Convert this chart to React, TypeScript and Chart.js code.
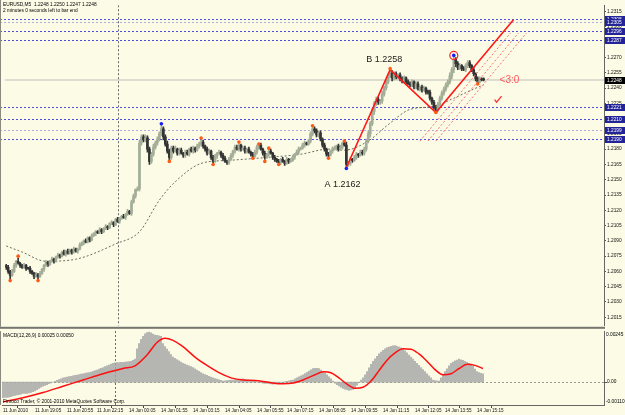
import React, { useEffect, useRef } from "react";
import { Chart, registerables } from "chart.js";

Chart.register(...registerables);

// ---------------- data ----------------
const symbolTitle = "EURUSD,M5  1.2248 1.2250 1.2247 1.2248";
const timerText = "2 minutes 0 seconds left to bar end";
const macdTitle = "MACD(12,26,9) 0.00025 0.00050";
const copyrightText = "Finroco Trader, © 2001-2010 MetaQuotes Software Corp.";

// prices in pips above 1.2000, one entry per M5 bar
const firstOpen = 66;
const closePips = [
  64, 60, 56, 60, 66, 70, 68, 66, 64, 66, 63, 63, 60, 58, 55, 57, 55, 58, 62, 66,
  69, 67, 70, 72, 70, 74, 76, 75, 79, 77, 80, 78, 81, 79, 82, 80, 82, 86, 88, 90,
  89, 93, 91, 95, 97, 99, 98, 101, 99, 102, 104, 103, 107, 108, 106, 111, 109, 112, 114, 113,
  116, 119, 117, 128, 134, 140, 141, 186, 192, 189, 191, 180, 168, 175, 182, 186, 190, 195, 200, 192,
  185, 178, 172, 181, 178, 180, 176, 179, 176, 174, 177, 175, 180, 178, 181, 179, 183, 185, 187, 183,
  180, 176, 178, 172, 168, 173, 176, 177, 174, 171, 168, 167, 170, 174, 178, 182, 180, 184, 180, 181,
  178, 180, 177, 175, 173, 177, 182, 184, 180, 176, 172, 175, 178, 176, 172, 170, 168, 167, 170, 168,
  166, 170, 168, 169, 172, 175, 177, 180, 181, 184, 186, 185, 188, 195, 200, 198, 194, 196, 190, 184,
  180, 175, 174, 178, 180, 181, 183, 180, 182, 186, 184, 165, 166, 170, 169, 172, 175, 174, 177, 176,
  180, 188, 195, 205, 217, 225, 229, 226, 227, 234, 240, 246, 252, 255, 250, 254, 251, 253, 249, 247,
  250, 246, 244, 243, 246, 241, 244, 239, 241, 238, 240, 236, 236, 230, 226, 221, 219, 224, 230, 235,
  239, 243, 246, 252, 258, 268, 264, 260, 262, 259, 258, 262, 265, 262, 258, 254, 249, 246, 249, 248,
  248,
];
const wickUp = [
  1, 2, 1, 2, 2, 1, 3, 1, 1, 2, 1, 1, 2, 1, 1, 2, 1, 2, 1, 1,
  2, 1, 1, 2, 1, 1, 2, 1, 1, 2, 1, 2, 1, 1, 2, 1, 1, 2, 1, 1,
  2, 1, 1, 2, 1, 1, 1, 2, 1, 1, 2, 1, 1, 2, 1, 1, 2, 1, 1, 2,
  1, 2, 1, 2, 2, 1, 2, 3, 2, 2, 3, 2, 2, 2, 3, 2, 2, 2, 4, 2,
  2, 3, 2, 2, 2, 3, 1, 2, 2, 1, 2, 2, 1, 2, 2, 1, 2, 2, 2, 2,
  1, 2, 2, 1, 2, 2, 1, 2, 1, 2, 2, 1, 2, 2, 1, 2, 2, 2, 1, 2,
  2, 1, 2, 1, 2, 2, 2, 1, 2, 1, 2, 1, 2, 2, 1, 2, 1, 2, 1, 2,
  1, 2, 1, 2, 2, 1, 2, 2, 1, 2, 2, 1, 2, 2, 3, 2, 2, 2, 2, 1,
  2, 1, 2, 1, 2, 2, 1, 2, 2, 1, 2, 3, 2, 2, 1, 2, 2, 1, 2, 2,
  2, 2, 3, 2, 3, 2, 2, 2, 2, 3, 2, 2, 2, 3, 2, 2, 2, 1, 2, 2,
  2, 1, 2, 2, 2, 1, 2, 2, 1, 2, 2, 1, 2, 2, 1, 2, 2, 2, 2, 2,
  2, 2, 2, 3, 2, 4, 2, 2, 2, 1, 2, 2, 2, 2, 1, 2, 1, 2, 2, 1,
  2,
];
const wickDown = [
  2, 2, 5, 1, 1, 2, 1, 2, 1, 1, 2, 1, 2, 1, 2, 1, 3, 1, 1, 2,
  1, 2, 1, 1, 2, 1, 1, 2, 1, 1, 2, 1, 1, 2, 1, 1, 2, 1, 1, 2,
  1, 1, 2, 1, 1, 2, 1, 1, 2, 1, 1, 2, 1, 1, 2, 1, 1, 2, 1, 1,
  2, 1, 1, 2, 1, 2, 1, 2, 2, 2, 2, 3, 3, 2, 2, 2, 2, 2, 2, 3,
  2, 2, 3, 2, 2, 1, 2, 2, 1, 2, 2, 1, 2, 1, 2, 2, 1, 2, 2, 2,
  2, 2, 1, 2, 2, 1, 2, 1, 2, 2, 1, 2, 2, 1, 2, 2, 1, 2, 2, 1,
  2, 2, 1, 2, 2, 1, 2, 2, 1, 2, 2, 1, 2, 1, 2, 2, 1, 1, 2, 1,
  2, 1, 2, 1, 1, 2, 1, 2, 1, 1, 2, 1, 1, 2, 2, 2, 2, 2, 2, 2,
  2, 2, 2, 1, 2, 1, 2, 2, 1, 2, 1, 3, 2, 2, 2, 1, 2, 2, 1, 2,
  2, 2, 2, 3, 2, 3, 2, 2, 2, 2, 2, 2, 2, 2, 3, 2, 2, 2, 2, 2,
  2, 2, 1, 2, 2, 2, 2, 1, 2, 2, 1, 2, 2, 2, 2, 2, 3, 2, 2, 2,
  2, 2, 2, 2, 3, 3, 3, 2, 2, 2, 1, 2, 2, 2, 2, 2, 2, 2, 1, 1,
  1,
];

// moving average (dotted) — bar index / pips
const maBars = [0, 8, 20, 35, 55, 67, 77, 85, 98, 112, 132, 148, 162, 170, 182, 192, 203, 215, 225, 235, 240];
const maPips = [85, 79, 70, 72, 87, 99, 130, 148, 166, 169, 172, 175, 180, 179, 188, 204, 219, 222, 230, 239, 243];

// MACD histogram, units of 0.00001, one per bar
const macdHist = [
  -75, -74, -74, -72, -70, -66, -64, -62, -60, -58, -55, -54, -54, -52, -50, -46, -42, -36, -30, -25,
  -20, -16, -12, -8, -4, 0, 4, 8, 12, 16, 20, 22, 24, 26, 28, 30, 32, 34, 36, 38,
  40, 42, 44, 46, 48, 52, 55, 58, 62, 66, 70, 74, 78, 82, 86, 90, 92, 93, 94, 95,
  95, 96, 97, 98, 100, 104, 110, 160, 185, 205, 220, 232, 238, 240, 236, 230, 226, 224, 222, 220,
  185, 170, 158, 146, 132, 120, 114, 108, 102, 96, 90, 86, 82, 78, 74, 70, 64, 58, 52, 46,
  40, 36, 32, 28, 24, 20, 17, 14, 11, 8, 5, 6, 7, 8, 9, 10, 11, 12, 13, 14,
  15, 13, 11, 9, 7, 5, 3, 1, -1, -3, -5, -6, -7, -8, -9, -10, -8, -6, -4, -2,
  0, 2, 4, 6, 8, 10, 15, 20, 25, 30, 35, 41, 47, 53, 59, 65, 66, 66, 65, 58,
  50, 43, 35, 25, 15, 5, -5, -12, -18, -24, -30, -34, -37, -40, -38, -35, -30, -15, 0, 10,
  20, 35, 50, 68, 85, 100, 112, 124, 135, 144, 152, 159, 165, 168, 171, 174, 175, 172, 168, 164,
  160, 150, 140, 130, 120, 110, 100, 90, 80, 70, 60, 50, 40, 30, 20, 10, 7, 6, 5, 20,
  35, 50, 64, 78, 90, 96, 102, 106, 110, 107, 104, 100, 95, 90, 85, 75, 62, 50, 46, 42,
  40,
];
// MACD signal line — bar index / units of 0.00001
const signalBars = [0, 10, 20, 30, 40, 50, 60, 66, 72, 77, 81, 85, 90, 96, 102, 108, 114, 120, 126, 132, 138, 144, 150, 156, 160, 164, 168, 172, 176, 180, 184, 188, 192, 196, 200, 204, 208, 212, 216, 220, 224, 228, 232, 236, 240];
const signalVals = [-95, -75, -50, -20, 10, 40, 65, 78, 130, 190, 210, 200, 170, 120, 80, 45, 20, 10, 8, 0, -8, -6, 10, 35, 50, 45, 20, -10, -30, -25, 5, 55, 105, 140, 160, 158, 135, 100, 60, 35, 40, 65, 85, 80, 65];

const priceTicks = [1.2015, 1.203, 1.2045, 1.206, 1.2075, 1.209, 1.2105, 1.212, 1.2135, 1.215, 1.2165, 1.218, 1.2195, 1.221, 1.2225, 1.224, 1.2255, 1.227, 1.2285, 1.23, 1.2315];
const timeTickBars = [-1, 15, 31, 46, 62, 78, 94, 110, 126, 141, 157, 173, 189, 205, 220, 236];
const timeTickLabels = ["11 Jun 2010", "11 Jun 19:05", "11 Jun 20:55", "11 Jun 22:15", "14 Jun 00:05", "14 Jun 01:55", "14 Jun 03:15", "14 Jun 04:05", "14 Jun 05:55", "14 Jun 07:15", "14 Jun 08:05", "14 Jun 09:55", "14 Jun 11:15", "14 Jun 12:05", "14 Jun 13:55", "14 Jun 15:15"];

const levelPrices = [1.2308, 1.2305, 1.2296, 1.2287, 1.2221, 1.221, 1.2199, 1.219];
const levelKinds = ["blue", "lilac", "blue", "blue", "blue", "blue", "lilac", "blue"];
const bidPrice = 1.2248;

const orangeBars = [2, 6, 16, 82, 98, 104, 117, 124, 127, 130, 132, 137, 154, 162, 170, 193, 216, 237];
const orangePrices = [1.2051, 1.2075, 1.2051, 1.2168, 1.2191, 1.2165, 1.2187, 1.2171, 1.2185, 1.2168, 1.2181, 1.2165, 1.2203, 1.2171, 1.2188, 1.2259, 1.2216, 1.2244];
const blueBars = [78, 171, 225];
const bluePrices = [1.2205, 1.2161, 1.2272];

const zigzagBars = [171, 193, 216, 255];
const zigzagPrices = [1.2162, 1.2258, 1.2216, 1.2307];

const channelStartBars = [208, 212, 216];
const channelStartPrices = [1.2188, 1.2188, 1.2188];
const channelEndBars = [253.5, 257.5, 261.5];
const channelEndPrices = [1.2294, 1.2294, 1.2294];

const daySeparatorBar = 56;
const noteA = { bar: 169, price: 1.21456, text: "A 1.2162" };
const noteB = { bar: 190, price: 1.2268, text: "B 1.2258" };
const noteCount = { bar: 248, price: 1.2248, text: "<3:0" };
const checkMark = { bar: 247, price: 1.22286 };

const PRICE_MIN = 1.200662;
const PRICE_MAX = 1.232129;
const MACD_MIN = -0.0011;
const MACD_MAX = 0.00245;
const X_MIN = -0.5;
const X_MAX = 300.5;

// ---------------- styles ----------------
const BG = "#fbfbe6";
const FONT = "Liberation Sans";
const BULL = "#a3ad97";
const BEAR = "#333333";
const LEVEL_COLORS: Record<string, string> = { blue: "#4f4fe6", lilac: "#b3acdf" };

const px = (pips: number) => +(1.2 + pips / 10000).toFixed(5);

function buildCandles() {
  const wick: any[] = [];
  const body: any[] = [];
  const cols: string[] = [];
  for (let i = 0; i < closePips.length; i++) {
    const o = i === 0 ? firstOpen : closePips[i - 1];
    const c = closePips[i];
    const hi = Math.max(o, c) + wickUp[i];
    const lo = Math.min(o, c) - wickDown[i];
    wick.push({ x: i, y: [px(lo), px(hi)] });
    body.push({ x: i, y: [px(o), px(c)] });
    cols.push(c > o ? BULL : BEAR);
  }
  return { wick, body, cols };
}

const mainOverlay = {
  id: "mainOverlay",
  beforeDatasetsDraw(chart: any) {
    const { ctx, chartArea: a, scales } = chart;
    const xs = scales.x, ys = scales.y;
    ctx.save();
    ctx.beginPath();
    ctx.rect(0, a.top, a.right, a.bottom - a.top);
    ctx.clip();
    // bid line
    const by = Math.round(ys.getPixelForValue(bidPrice));
    ctx.strokeStyle = "#dcdcd0";
    ctx.lineWidth = 2;
    ctx.beginPath();
    ctx.moveTo(a.left, by);
    ctx.lineTo(a.right, by);
    ctx.stroke();
    // level lines
    ctx.lineWidth = 1;
    ctx.setLineDash([2, 2]);
    levelPrices.forEach((p, k) => {
      const y = Math.round(ys.getPixelForValue(p)) + 0.5;
      ctx.strokeStyle = LEVEL_COLORS[levelKinds[k]];
      ctx.beginPath();
      ctx.moveTo(0, y);
      ctx.lineTo(a.right, y);
      ctx.stroke();
    });
    // day separator
    ctx.setLineDash([2, 2]);
    ctx.strokeStyle = "#6a6a6a";
    const sx = Math.round(xs.getPixelForValue(daySeparatorBar)) + 0.5;
    ctx.beginPath();
    ctx.moveTo(sx, a.top);
    ctx.lineTo(sx, a.bottom);
    ctx.stroke();
    ctx.restore();
  },
  afterDatasetsDraw(chart: any) {
    const { ctx, scales } = chart;
    const xs = scales.x, ys = scales.y;
    ctx.save();
    ctx.textBaseline = "middle";
    ctx.fillStyle = "#1a1a1a";
    ctx.font = `9px "${FONT}"`;
    ctx.textAlign = "center";
    ctx.fillText(noteB.text, xs.getPixelForValue(noteB.bar), ys.getPixelForValue(noteB.price));
    ctx.fillText(noteA.text, xs.getPixelForValue(noteA.bar), ys.getPixelForValue(noteA.price));
    ctx.textAlign = "left";
    ctx.fillStyle = "#ff5a5a";
    ctx.font = `10px "${FONT}"`;
    ctx.fillText(noteCount.text, xs.getPixelForValue(noteCount.bar), ys.getPixelForValue(noteCount.price));
    // check mark
    const cx = xs.getPixelForValue(checkMark.bar), cy = ys.getPixelForValue(checkMark.price);
    ctx.strokeStyle = "#ff3030";
    ctx.lineWidth = 1.3;
    ctx.beginPath();
    ctx.moveTo(cx - 3, cy);
    ctx.lineTo(cx - 1, cy + 2.5);
    ctx.lineTo(cx + 4, cy - 3.5);
    ctx.stroke();
    // header texts
    ctx.fillStyle = "#000";
    ctx.font = `4.8px "${FONT}"`;
    ctx.fillText(symbolTitle, 3, 5);
    ctx.fillText(timerText, 3, 10.5);
    ctx.restore();
  },
  afterDraw(chart: any) {
    const { ctx, chartArea: a, scales } = chart;
    const ys = scales.y;
    ctx.save();
    ctx.font = `4.8px "${FONT}"`;
    ctx.textBaseline = "middle";
    ctx.textAlign = "left";
    levelPrices.forEach((p) => {
      const y = Math.round(ys.getPixelForValue(p));
      ctx.fillStyle = "#24249a";
      ctx.fillRect(a.right + 1, y - 3, 20, 7);
      ctx.fillStyle = "#ffffff";
      ctx.fillText(p.toFixed(4), a.right + 3, y + 0.5);
    });
    const by = Math.round(ys.getPixelForValue(bidPrice));
    ctx.fillStyle = "#000";
    ctx.fillRect(a.right + 1, by - 3, 20, 7);
    ctx.fillStyle = "#fff";
    ctx.fillText(bidPrice.toFixed(4), a.right + 3, by + 0.5);
    // pane separator and left border
    ctx.fillStyle = "#767670";
    ctx.fillRect(0, a.bottom + 1, a.right + 1, 2);
    ctx.fillStyle = "#8a8a80";
    ctx.fillRect(0, 0, 1, a.bottom + 1);
    ctx.restore();
  },
};

const macdOverlay = {
  id: "macdOverlay",
  beforeDatasetsDraw(chart: any) {
    const { ctx, chartArea: a, scales } = chart;
    const xs = scales.x, ys = scales.y;
    ctx.save();
    ctx.lineWidth = 1;
    ctx.setLineDash([2, 2]);
    ctx.strokeStyle = "#9a9a90";
    const zy = Math.round(ys.getPixelForValue(0)) + 0.5;
    ctx.beginPath();
    ctx.moveTo(a.left, zy);
    ctx.lineTo(a.right, zy);
    ctx.stroke();
    ctx.strokeStyle = "#6a6a6a";
    const sx = Math.round(xs.getPixelForValue(daySeparatorBar)) + 0.5;
    ctx.beginPath();
    ctx.moveTo(sx, a.top);
    ctx.lineTo(sx, a.bottom);
    ctx.stroke();
    ctx.restore();
  },
  afterDraw(chart: any) {
    const { ctx, chartArea: a, scales } = chart;
    const ys = scales.y;
    ctx.save();
    ctx.font = `4.8px "${FONT}"`;
    ctx.textBaseline = "middle";
    ctx.textAlign = "left";
    ctx.fillStyle = "#000";
    ctx.fillText(macdTitle, 3, a.top + 5);
    ctx.fillText(copyrightText, 3, a.bottom - 3);
    const zy = ys.getPixelForValue(0);
    ctx.fillText(MACD_MAX.toFixed(5), a.right + 2, a.top + 4);
    ctx.fillText("0.00", a.right + 3, zy);
    ctx.fillText(MACD_MIN.toFixed(5), a.right + 2, a.bottom - 3);
    ctx.fillStyle = "#555";
    ctx.fillRect(a.right, Math.round(zy), 3, 1);
    ctx.fillStyle = "#8a8a80";
    ctx.fillRect(0, a.top, 1, a.bottom - a.top);
    ctx.restore();
  },
};

export default function App() {
  const mainRef = useRef<HTMLCanvasElement>(null);
  const macdRef = useRef<HTMLCanvasElement>(null);

  useEffect(() => {
    const { wick, body, cols } = buildCandles();
    const mainChart = new Chart(mainRef.current as HTMLCanvasElement, {
      type: "bar",
      data: {
        datasets: [
          {
            type: "line",
            label: "MA",
            data: maBars.map((b, i) => ({ x: b, y: px(maPips[i]) })),
            borderColor: "#6e6e60",
            borderWidth: 1,
            borderDash: [2, 2],
            pointRadius: 0,
            cubicInterpolationMode: "monotone",
            order: 9,
          } as any,
          {
            type: "bar",
            label: "range",
            data: wick,
            backgroundColor: cols,
            barThickness: 1,
            grouped: false,
            order: 8,
          } as any,
          {
            type: "bar",
            label: "body",
            data: body,
            backgroundColor: cols,
            barThickness: 2,
            minBarLength: 1,
            grouped: false,
            order: 7,
          } as any,
          ...channelStartBars.map((b, k) => ({
            type: "line",
            label: "channel" + k,
            data: [
              { x: b, y: channelStartPrices[k] },
              { x: channelEndBars[k], y: channelEndPrices[k] },
            ],
            borderColor: "#ff7070",
            borderWidth: 1,
            borderDash: [2, 2],
            pointRadius: 0,
            order: 6,
          })) as any,
          {
            type: "line",
            label: "zigzag",
            data: zigzagBars.map((b, i) => ({ x: b, y: zigzagPrices[i] })),
            borderColor: "#ff1a1a",
            borderWidth: 1.6,
            pointRadius: 0,
            order: 5,
          } as any,
          {
            type: "line",
            label: "fractals",
            data: orangeBars.map((b, i) => ({ x: b, y: orangePrices[i] })),
            showLine: false,
            pointRadius: 1.8,
            pointBackgroundColor: "#ff5a14",
            pointBorderWidth: 0,
            order: 3,
          } as any,
          {
            type: "line",
            label: "extremes",
            data: blueBars.map((b, i) => ({ x: b, y: bluePrices[i] })),
            showLine: false,
            pointRadius: 1.8,
            pointBackgroundColor: "#1a1aff",
            pointBorderWidth: 0,
            order: 2,
          } as any,
          {
            type: "line",
            label: "ring",
            data: [{ x: blueBars[2], y: bluePrices[2] }],
            showLine: false,
            pointRadius: 4,
            pointBackgroundColor: "rgba(0,0,0,0)",
            pointBorderColor: "#ff2020",
            pointBorderWidth: 1.2,
            order: 1,
          } as any,
        ],
      },
      options: {
        animation: false,
        responsive: false,
        devicePixelRatio: 1,
        events: [],
        layout: { padding: { left: 2, top: 2, right: 0, bottom: 3 } },
        plugins: { legend: { display: false }, tooltip: { enabled: false } },
        scales: {
          x: { type: "linear", min: X_MIN, max: X_MAX, display: false, offset: false },
          y: {
            type: "linear",
            position: "right",
            min: PRICE_MIN,
            max: PRICE_MAX,
            afterBuildTicks: (s: any) => {
              s.ticks = priceTicks.map((v) => ({ value: v }));
            },
            afterFit: (s: any) => {
              s.width = 21;
              s.paddingTop = 0;
              s.paddingBottom = 0;
            },
            ticks: {
              autoSkip: false,
              padding: 1,
              color: "#111",
              font: { family: FONT, size: 4.8 },
              callback: (v: any) => Number(v).toFixed(4),
            },
            grid: { drawOnChartArea: false, tickLength: 2, color: "#555" },
            border: { display: true, color: "#666", width: 1 },
          },
        },
      } as any,
      plugins: [mainOverlay],
    });

    const macdChart = new Chart(macdRef.current as HTMLCanvasElement, {
      type: "bar",
      data: {
        datasets: [
          {
            type: "line",
            label: "signal",
            data: signalBars.map((b, i) => ({ x: b, y: signalVals[i] / 1e5 })),
            borderColor: "#ff1010",
            borderWidth: 1.5,
            pointRadius: 0,
            cubicInterpolationMode: "monotone",
            order: 1,
          } as any,
          {
            type: "bar",
            label: "macd",
            data: macdHist.map((v, i) => ({ x: i, y: v / 1e5 })),
            backgroundColor: "#a6a6a6",
            barThickness: 1,
            order: 2,
          } as any,
        ],
      },
      options: {
        animation: false,
        responsive: false,
        devicePixelRatio: 1,
        events: [],
        layout: { padding: { left: 2, top: 0, right: 0, bottom: 0 } },
        plugins: { legend: { display: false }, tooltip: { enabled: false } },
        scales: {
          x: {
            type: "linear",
            min: X_MIN,
            max: X_MAX,
            offset: false,
            position: "bottom",
            afterBuildTicks: (s: any) => {
              s.ticks = timeTickBars.map((v) => ({ value: v }));
            },
            afterFit: (s: any) => {
              s.height = 10;
              s.paddingLeft = 0;
              s.paddingRight = 0;
            },
            ticks: {
              autoSkip: false,
              maxRotation: 0,
              minRotation: 0,
              align: "start",
              labelOffset: 2,
              padding: 0,
              color: "#111",
              font: { family: FONT, size: 4.6 },
              callback: (v: any) => {
                const k = timeTickBars.indexOf(Number(v));
                return k >= 0 ? timeTickLabels[k] : "";
              },
            },
            grid: { drawOnChartArea: false, tickLength: 3, color: "#444" },
            border: { display: true, color: "#666", width: 1 },
          },
          y: {
            type: "linear",
            position: "right",
            min: MACD_MIN,
            max: MACD_MAX,
            afterFit: (s: any) => {
              s.width = 21;
              s.paddingTop = 0;
              s.paddingBottom = 0;
            },
            ticks: { display: false },
            grid: { display: false },
            border: { display: true, color: "#666", width: 1 },
          },
        },
      } as any,
      plugins: [macdOverlay],
    });

    return () => {
      mainChart.destroy();
      macdChart.destroy();
    };
  }, []);

  return (
    <div style={{ position: "fixed", left: 0, top: 0, width: 625, height: 415, background: BG, overflow: "hidden" }}>
      <canvas ref={mainRef} width={625} height={331} style={{ position: "absolute", left: 0, top: 0, display: "block" }} />
      <canvas ref={macdRef} width={625} height={84} style={{ position: "absolute", left: 0, top: 331, display: "block" }} />
    </div>
  );
}
